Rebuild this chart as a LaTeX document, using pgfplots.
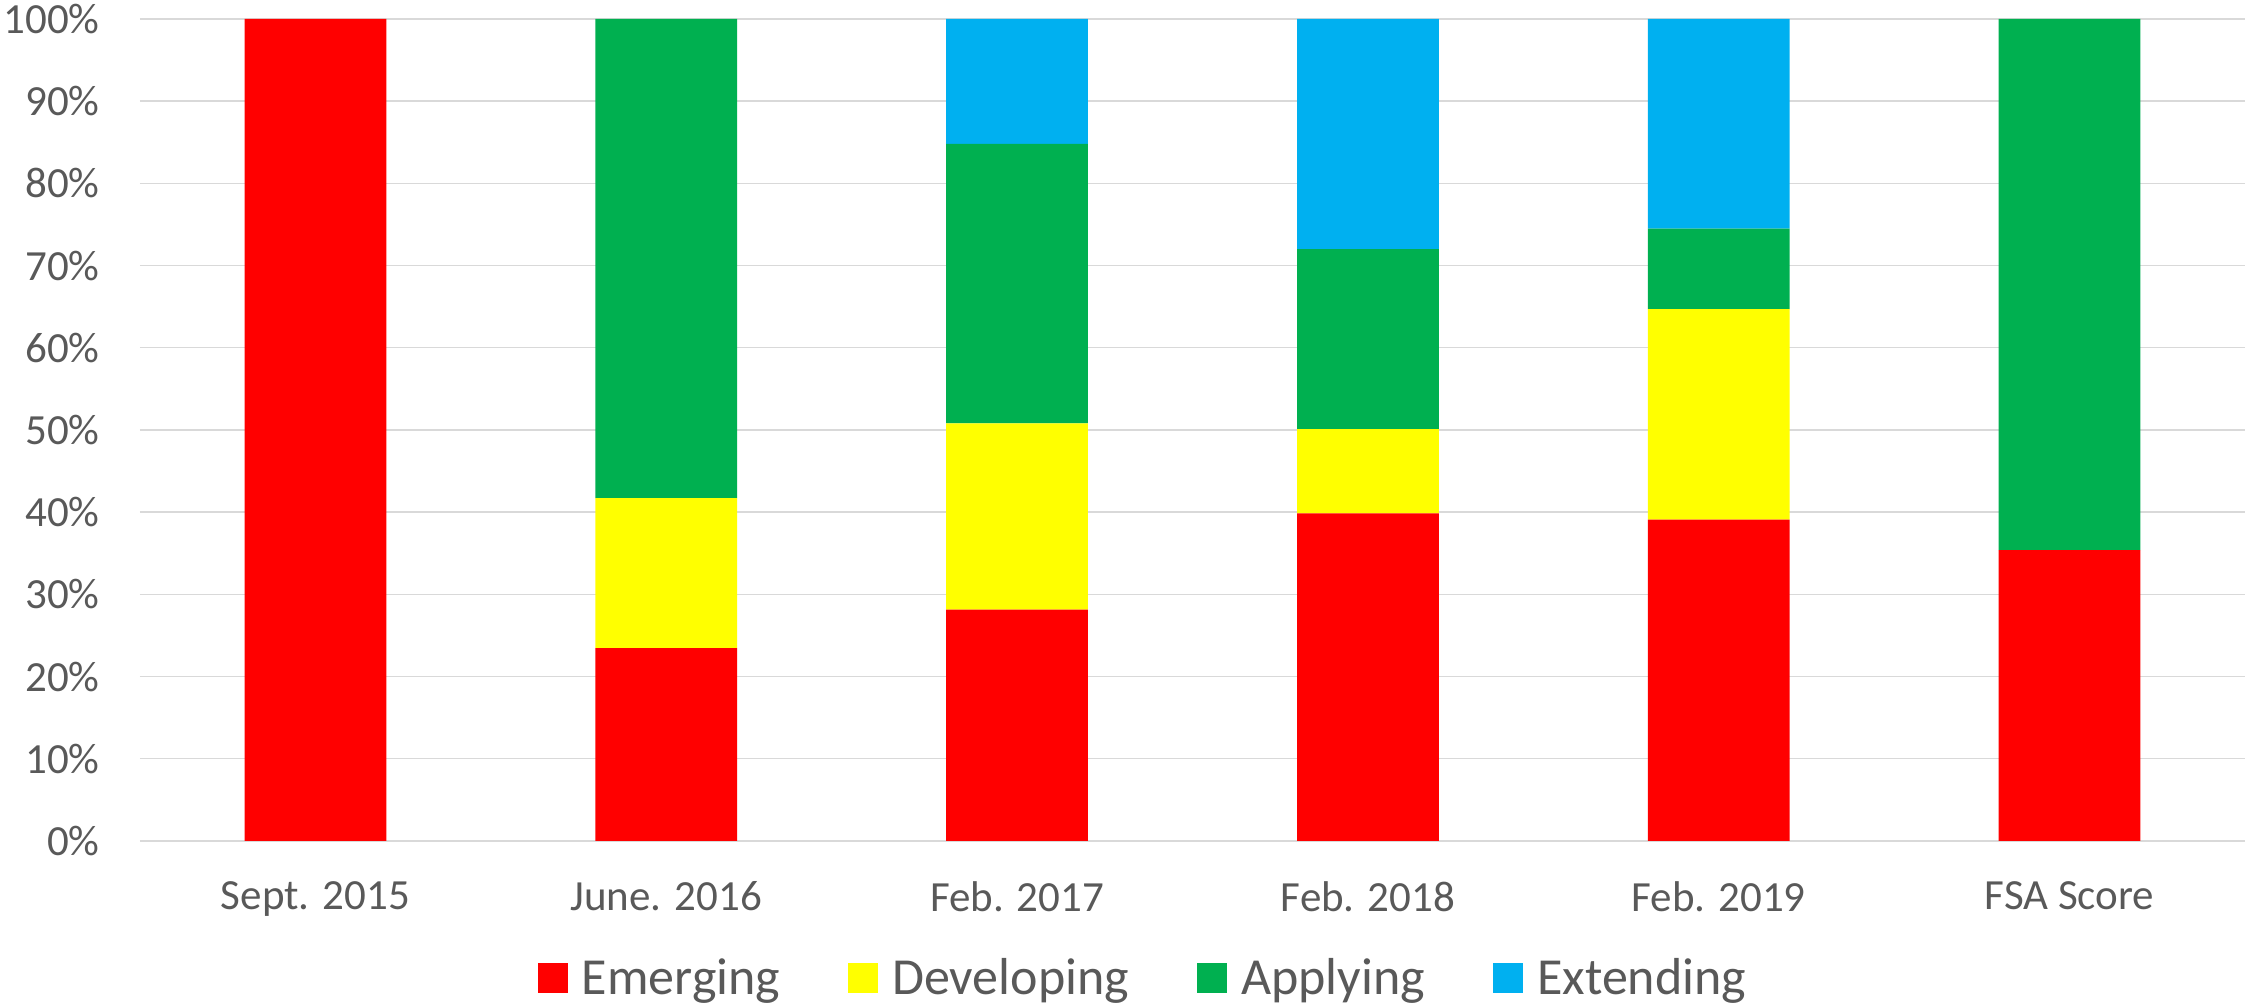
\documentclass[border=0pt]{standalone}
\usepackage{pgfplots}
\pgfplotsset{compat=1.18}
\usepackage{fontspec}
\setmainfont{Carlito}
\definecolor{txt}{HTML}{595959}
\definecolor{gridc}{HTML}{D9D9D9}
\definecolor{cE}{HTML}{FF0000}
\definecolor{cD}{HTML}{FFFF00}
\definecolor{cA}{HTML}{00B050}
\definecolor{cX}{HTML}{00B0F0}
\begin{document}
\begin{tikzpicture}
\begin{axis}[
  at={(0,0)}, anchor=south west,
  scale only axis,
  width=1052.5pt, height=411pt,
  ybar stacked, bar width=70.85pt,
  xmin=-0.5, xmax=5.5, ymin=0, ymax=100,
  xtick={0,1,2,3,4,5},
  xticklabels={Sept. 2015, June. 2016, Feb. 2017, Feb. 2018, Feb. 2019, FSA Score},
  ytick={0,10,20,30,40,50,60,70,80,90,100},
  yticklabels={0\%,10\%,20\%,30\%,40\%,50\%,60\%,70\%,80\%,90\%,100\%},
  major tick length=0pt,
  axis line style={draw=none},
  ymajorgrids, grid style={gridc, line width=0.7pt},
  tick label style={font=\fontsize{21.5}{24}\selectfont, text=txt},
  yticklabel style={anchor=east, inner sep=0pt, xshift=-20pt},
  xticklabel style={anchor=north, inner sep=0pt, yshift=-20pt},
  legend columns=4,
  legend style={at={(axis description cs:0.477,-0.167)}, anchor=center, draw=none,
    font=\fontsize{26}{30}\selectfont, text=txt,
    /tikz/every odd column/.append style={column sep=5pt},
    /tikz/every even column/.append style={column sep=32pt}},
  legend image code/.code={\fill[#1] (0pt,-7.5pt) rectangle (15pt,7.5pt);},
  legend cell align=left,
]
\addplot[fill=cE, draw=none] coordinates {(0,100) (1,23.45) (2,28.15) (3,39.85) (4,39.1) (5,35.4)};
\addplot[fill=cD, draw=none] coordinates {(0,0) (1,18.25) (2,22.65) (3,10.25) (4,25.6) (5,0)};
\addplot[fill=cA, draw=none] coordinates {(0,0) (1,58.3) (2,34.0) (3,21.9) (4,9.8) (5,64.6)};
\addplot[fill=cX, draw=none] coordinates {(0,0) (1,0) (2,15.2) (3,28.0) (4,25.5) (5,0)};
\legend{Emerging, Developing, Applying, Extending}
\end{axis}
\pgfresetboundingbox
\path[use as bounding box] (-70pt,-81.5pt) rectangle (1053.5pt,420.5pt);
\end{tikzpicture}
\end{document}
